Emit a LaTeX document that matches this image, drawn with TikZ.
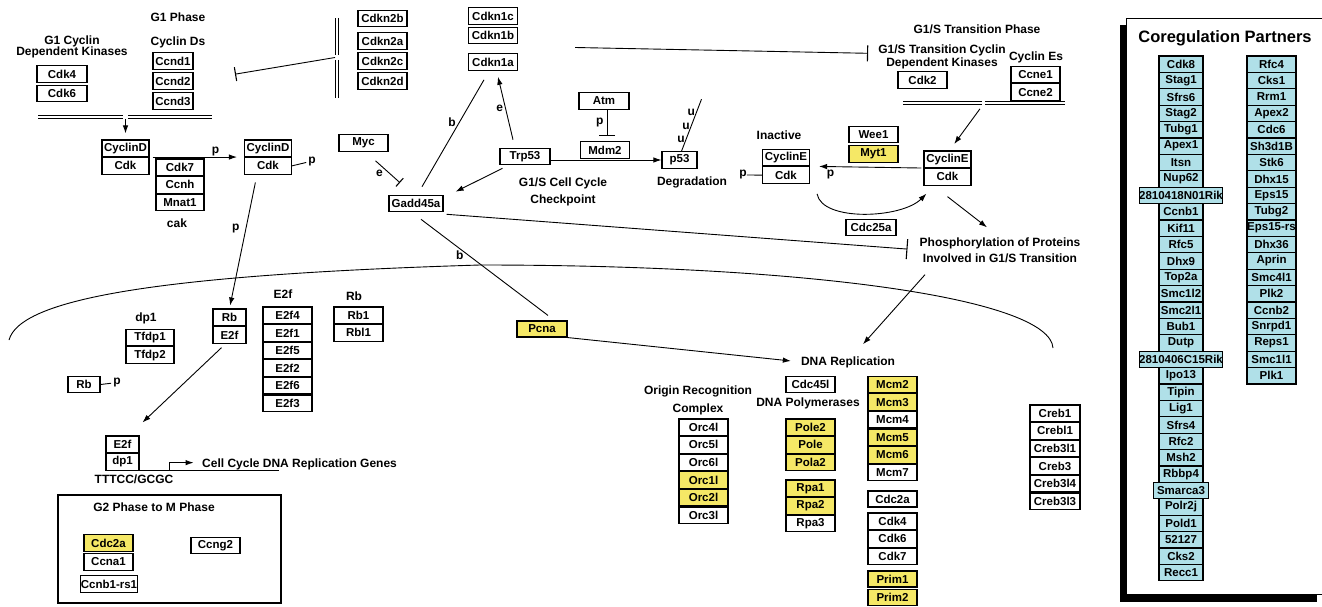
\documentclass[tikz,border=0pt]{standalone}
\usepackage{fontspec}
\setmainfont{Liberation Sans}
\usetikzlibrary{positioning,arrows.meta}

\definecolor{hityellow}{RGB}{245,232,102}
\definecolor{partnerblue}{RGB}{176,224,232}
\newcommand\genefont{\fontsize{11.5}{12}\selectfont\bfseries}
\newcommand\lblfont{\fontsize{12}{13}\selectfont\bfseries}

\tikzset{
  gene/.style = {draw, line width=1.1pt, minimum width=49pt, minimum height=16.5pt, inner sep=0pt, font=\genefont},
  hit/.style = {gene, fill=hityellow},
  partner/.style = {draw, line width=1.1pt, fill=partnerblue, minimum height=16.4pt, inner sep=0pt, font=\genefont},
  lbl/.style = {font=\lblfont, align=center, inner sep=0pt},
  link/.style = {line width=0.9pt},
  act/.style = {link, -{Latex[length=8pt,width=5.5pt]}},
  inh/.style = {link, -{Bar[width=#1,line width=1.1pt]}},
  inh/.default = 14pt,
  brk/.style = {double, double distance=1.6pt, line width=0.8pt},
}

\begin{document}
\begin{tikzpicture}[x=1pt, y=-1pt]
\useasboundingbox (0,0) rectangle (1322,607);

% G1 phase
\node[lbl] (g1ph) at (178,17) {G1 Phase};
\node[lbl] (g1cdk) at (72,47) {G1 Cyclin\\[-2.5pt]Dependent Kinases};
\node[lbl] (cycds) at (178,42) {Cyclin Ds};
\node[gene, minimum width=50pt] (cdk4) at (62,74) {Cdk4};
\node[gene, minimum width=50pt, below=2pt of cdk4] (cdk6) {Cdk6};
\node[gene, minimum width=40pt] (ccnd1) at (173,61) {Ccnd1};
\node[gene, minimum width=40pt, below=2.5pt of ccnd1] (ccnd2) {Ccnd2};
\node[gene, minimum width=40pt, below=2.5pt of ccnd2] (ccnd3) {Ccnd3};
\draw[brk] (38,117) -- (123,117);
\draw[brk] (128,117) -- (212,117);
\coordinate (g1brk) at (125.5,118);

% inhibitors
\node[gene] (cdkn2b) at (382.5,18.5) {Cdkn2b};
\node[gene] (cdkn2a) at (382.5,41) {Cdkn2a};
\node[gene, below=2.5pt of cdkn2a] (cdkn2c) {Cdkn2c};
\node[gene, below=2.5pt of cdkn2c] (cdkn2d) {Cdkn2d};
\draw[brk] (337,18) -- (337,55);
\draw[brk] (337,60) -- (337,98);
\coordinate (cdkn2brk) at (335,57.5);
\node[gene] (cdkn1c) at (493,16) {Cdkn1c};
\node[gene] (cdkn1b) at (493,35.5) {Cdkn1b};
\node[gene] (cdkn1a) at (493,62) {Cdkn1a};

% cyclin D complexes
\node[gene, minimum width=47pt] (cycdA) at (125.5,148.25) {CyclinD};
\node[gene, minimum width=47pt, below=0pt of cycdA] (cycdAk) {Cdk};
\node[gene, minimum width=48pt] (cdk7) at (180,167.25) {Cdk7};
\node[gene, minimum width=48pt, below=0pt of cdk7] (ccnh) {Ccnh};
\node[gene, minimum width=48pt, below=0pt of ccnh] (mnat1) {Mnat1};
\node[lbl] (cakl) at (177,223) {cak};
\node[gene, minimum width=47pt] (cycdB) at (268,148.25) {CyclinD};
\node[gene, minimum width=47pt, below=0pt of cycdB] (cycdBk) {Cdk};
\node[lbl] (pcycd) at (312,162) {p};

% checkpoint
\node[gene] (myc) at (363.5,143) {Myc};
\node[gene, minimum width=54pt] (gadd) at (416,203.5) {Gadd45a};
\node[gene, minimum width=50pt] (trp53) at (525,156.5) {Trp53};
\node[gene, minimum width=50pt] (atm) at (604,101) {Atm};
\node[gene] (mdm2) at (605,150) {Mdm2};
\node[gene, minimum width=35pt] (p53) at (679.5,160) {p53};
\node[lbl] (chkl) at (563,191.5) {G1/S Cell Cycle\\[4pt]Checkpoint};
\node[lbl] (degl) at (692,182) {Degradation};

% G1/S transition
\node[lbl] (g1sph) at (977,29) {G1/S Transition Phase};
\node[lbl] (g1scdkl) at (942,56.5) {G1/S Transition Cyclin\\Dependent Kinases};
\node[lbl] (cycesl) at (1036,57) {Cyclin Es};
\node[gene] (cdk2) at (922.5,80) {Cdk2};
\node[gene] (ccneA) at (1035.5,74.5) {Ccne1};
\node[gene, below=0pt of ccneA] (ccneB) {Ccne2};
\draw[brk] (903,103) -- (982,103);
\draw[brk] (985,103) -- (1065,103);
\coordinate (g1sbrk) at (983.5,104);
\node[lbl] (inactl) at (779,135) {Inactive};
\node[gene, minimum width=47pt] (cyceI) at (786,157.5) {CyclinE};
\node[gene, minimum width=47pt, below=0pt of cyceI] (cyceIk) {Cdk};
\node[lbl] (pInact) at (743,175) {p};
\node[gene] (wee1) at (873.5,134.5) {Wee1};
\node[hit, below=2pt of wee1] (myt1) {Myt1};
\node[gene, minimum width=47pt] (cyceA) at (947.5,159.25) {CyclinE};
\node[gene, minimum width=47pt, below=0pt of cyceA] (cyceAk) {Cdk};
\node[gene, minimum width=50pt] (cdc25a) at (871,227.5) {Cdc25a};
\node[lbl] (phosl) at (1000,250) {Phosphorylation of Proteins\\[3pt]Involved in G1/S Transition};

% nucleus
\draw[link] (9,340) .. controls (20,300) and (150,275) .. (480,265) .. controls (820,265) and (1050,300) .. (1053,348);

% E2f / Rb
\node[lbl] (dp1l) at (146,318) {dp1};
\node[gene, minimum width=48pt] (tfdpA) at (150,337.5) {Tfdp1};
\node[gene, minimum width=48pt, below=0pt of tfdpA] (tfdpB) {Tfdp2};
\node[gene, minimum width=33pt] (rbA) at (229.5,317.25) {Rb};
\node[gene, minimum width=33pt, below=0pt of rbA] (rbB) {E2f};
\node[lbl] (e2fl) at (283,294) {E2f};
\node[gene] (e2f4) at (287.5,315.25) {E2f4};
\node[gene, below=0pt of e2f4] (e2f1) {E2f1};
\node[gene, below=0pt of e2f1] (e2f5) {E2f5};
\node[gene, below=0pt of e2f5] (e2f2) {E2f2};
\node[gene, below=0pt of e2f2] (e2f6) {E2f6};
\node[gene, below=0pt of e2f6] (e2f3) {E2f3};
\node[lbl] (rbl) at (354,296) {Rb};
\node[gene] (rb1) at (358.5,315.25) {Rb1};
\node[gene, below=0pt of rb1] (rbl1) {Rbl1};
\node[gene, minimum width=32pt, minimum height=16pt] (rbs) at (84,384.5) {Rb};
\node[lbl] (pRbs) at (117,383) {p};
\node[gene, minimum width=33pt] (e2fA) at (122.5,444.25) {E2f};
\node[gene, minimum width=33pt, below=0pt of e2fA] (e2fB) {dp1};
\node[lbl] (tttl) at (134,479) {TTTCC/GCGC};
\node[lbl, anchor=west] (genesl) at (202,464) {Cell Cycle DNA Replication Genes};

% G2 to M
\draw[line width=1.1pt] (58,495) rectangle (281,603);
\node[lbl] (g2l) at (154,507) {G2 Phase to M Phase};
\node[hit] (cdc2g) at (108.5,543) {Cdc2a};
\node[gene] (ccna1) at (108.5,562) {Ccna1};
\node[gene, minimum width=56pt] (ccnb1rs) at (109,584) {Ccnb1-rs1};
\node[gene] (ccng2) at (215.5,545.5) {Ccng2};

% DNA replication
\node[hit, minimum width=50pt, minimum height=16pt] (pcna) at (542,329) {Pcna};
\node[lbl] (dnarepl) at (848,362) {DNA Replication};
\node[lbl] (orcl) at (698,400) {Origin Recognition\\[5pt]Complex};
\node[gene] (orc4) at (703.5,427.25) {Orc4l};
\node[gene, below=0pt of orc4] (orc5) {Orc5l};
\node[gene, below=0pt of orc5] (orc6) {Orc6l};
\node[hit, below=0pt of orc6] (orc1) {Orc1l};
\node[hit, below=0pt of orc1] (orc2) {Orc2l};
\node[gene, below=0pt of orc2] (orc3) {Orc3l};
\node[gene, minimum height=16pt] (cdc45) at (810.5,384.5) {Cdc45l};
\node[lbl] (poll) at (808,403) {DNA Polymerases};
\node[hit] (pole2) at (810.5,427.25) {Pole2};
\node[hit, below=0pt of pole2] (pole) {Pole};
\node[hit, below=0pt of pole] (pola2) {Pola2};
\node[hit] (rpa1) at (810.5,488.25) {Rpa1};
\node[hit, below=0pt of rpa1] (rpa2) {Rpa2};
\node[gene, below=0pt of rpa2] (rpa3) {Rpa3};
\node[hit] (mcm2) at (892.5,384.5) {Mcm2};
\node[hit, below=0pt of mcm2] (mcm3) {Mcm3};
\node[gene, below=0pt of mcm3] (mcm4) {Mcm4};
\node[hit, below=0pt of mcm4] (mcm5) {Mcm5};
\node[hit, below=0pt of mcm5] (mcm6) {Mcm6};
\node[gene, below=0pt of mcm6] (mcm7) {Mcm7};
\node[gene, minimum height=16pt] (cdc2r) at (892.5,499) {Cdc2a};
\node[gene] (cdk4r) at (892.5,521.25) {Cdk4};
\node[gene, below=0pt of cdk4r] (cdk6r) {Cdk6};
\node[gene, below=0pt of cdk6r] (cdk7r) {Cdk7};
\node[hit, minimum height=16pt] (prim1) at (892.5,579) {Prim1};
\node[hit, minimum height=16pt] (prim2) at (892.5,597.5) {Prim2};
\node[gene, minimum width=50pt] (creb1) at (1055,413.25) {Creb1};
\node[gene, minimum width=50pt, below=0pt of creb1] (crebl1) {Crebl1};
\node[gene, minimum width=50pt, below=0pt of crebl1] (creb3l1) {Creb3l1};
\node[gene, minimum width=50pt, below=0pt of creb3l1] (creb3) {Creb3};
\node[gene, minimum width=50pt, below=0pt of creb3] (creb3l4) {Creb3l4};
\node[gene, minimum width=50pt, below=0pt of creb3l4] (creb3l3) {Creb3l3};

% connectors
\draw[inh, shorten >=42pt] (cdkn2brk) -- (ccnd2.east);
\draw[act, shorten <=1pt, shorten >=6pt] (g1brk) -- (cycdA.north);
\draw[act, shorten <=3pt, shorten >=7pt] (cycdA.south east) -- node[lbl, pos=0.7, above=1pt] (pCycd) {p} (cycdB.south west);
\draw[link, shorten >=2pt] (cycdBk.east) -- (pcycd.west);
\draw[act, shorten <=8pt, shorten >=3pt] ([xshift=-11pt]cycdBk.south) -- node[lbl, pos=0.4, left=6pt] (pRb) {p} (rbA.north);
\draw[inh=11pt] ([xshift=12pt,yshift=-9pt]myc.south) -- node[lbl, pos=0.35, below left=1pt] (eMyc) {e} ([xshift=-16pt,yshift=12pt]gadd.north);
\draw[link] ([xshift=6pt,yshift=8pt]gadd.north) -- node[lbl, pos=0.6, left=3pt] (bCdkn) {b} ([xshift=-9pt,yshift=-9pt]cdkn1a.south);
\draw[act] ([xshift=-12pt,yshift=8pt]trp53.north) -- node[lbl, midway, left=2pt] (eTrp) {e} ([xshift=5pt,yshift=-6pt]cdkn1a.south);
\draw[act] ([xshift=3pt,yshift=-3pt]trp53.south west) -- ([xshift=12pt,yshift=3pt]gadd.north east);
\draw[inh=16pt] ([xshift=3pt]atm.south) -- node[lbl, midway, left=3pt] (pAtm) {p} ([xshift=2pt,yshift=5pt]mdm2.north);
\draw[act] (trp53.east |- p53.west) -- (p53.west);
\draw[link] ([xshift=2pt]p53.north) -- node[lbl, pos=0.23, left=1pt] (u1) {u} node[lbl, pos=0.48, left=1pt] (u2) {u} node[lbl, pos=0.75, left=1pt] (u3) {u} ++(20,-52);
\draw[inh=16pt, shorten >=10pt] ([xshift=57pt,yshift=-12pt]cdkn1b.east) -- ([yshift=3pt]g1scdkl.west);
\draw[inh=20pt, shorten >=12pt] ([xshift=3pt,yshift=-2pt]gadd.south east) -- (phosl.west);
\draw[act, shorten <=6pt, shorten >=8pt] (g1sbrk) -- ([xshift=2pt]cyceA.north);
\draw[act, shorten <=2pt, shorten >=9pt] (cyceA.south west) -- node[lbl, pos=0.82, below=3pt] (pCycE) {p} (cyceI.south east);
\draw[link] (cyceIk.west) -- (pInact.east);
\draw[act] ([xshift=7pt,yshift=-10pt]cyceIk.south east) .. controls +(5,28) and +(-25,25) .. ([xshift=3pt,yshift=-8pt]cyceAk.south west);
\draw[act] ([yshift=-11pt]cyceAk.south) -- ([xshift=-13pt,yshift=10pt]phosl.north);
\draw[act] ([xshift=-75pt,yshift=-12pt]phosl.south) -- ([xshift=15pt,yshift=12pt]dnarepl.north);
\draw[act, shorten >=10pt] (pcna.south east) -- (dnarepl.west);
\draw[link] ([xshift=5pt,yshift=-7pt]gadd.south) -- node[lbl, pos=0.37, left=4pt] (bPcna) {b} ([xshift=6pt,yshift=5pt]pcna.north);
\draw[act] ([xshift=-8pt,yshift=-4pt]rbB.south) -- ([xshift=20pt,yshift=13pt]e2fA.north);
\draw[link, shorten >=2pt] (rbs.east) -- (pRbs.west);
\draw[link] (e2fB.south east) -- ++(139,0);
\draw[act] ([xshift=30pt]e2fB.south east) |- ++(24,-8);

% coregulation partners
\fill (1120,25) rectangle (1317,602);
\draw[fill=white, line width=1pt] (1126,19) rectangle (1330,594);
\node[lbl, font=\fontsize{16.5}{18}\selectfont\bfseries] (coregl) at (1225,38) {Coregulation Partners};
\foreach \nm/\w [count=\i] in {Cdk8/44, Stag1/44, Sfrs6/44, Stag2/44, Tubg1/44, Apex1/44, Itsn/44, Nup62/44,
  2810418N01Rik/83, Ccnb1/44, Kif11/44, Rfc5/44, Dhx9/44, Top2a/44, Smc1l2/44, Smc2l1/44, Bub1/44, Dutp/44,
  2810406C15Rik/83, Ipo13/44, Tipin/44, Lig1/44, Sfrs4/44, Rfc2/44, Msh2/44, Rbbp4/44, Smarca3/55,
  Polr2j/44, Pold1/44, 52127/44, Cks2/44, Recc1/44}
  \node[partner, minimum width=\w pt] (pl\i) at (1181,{47.8+16.4*\i}) {\nm};
\foreach \nm [count=\i] in {Rfc4, Cks1, Rrm1, Apex2, Cdc6, Sh3d1B, Stk6, Dhx15, Eps15, Tubg2, Eps15-rs,
  Dhx36, Aprin, Smc4l1, Plk2, Ccnb2, Snrpd1, Reps1, Smc1l1, Plk1}
  \node[partner, minimum width=49pt] (pr\i) at (1271.5,{47.8+16.4*\i}) {\nm};

\end{tikzpicture}
\end{document}
